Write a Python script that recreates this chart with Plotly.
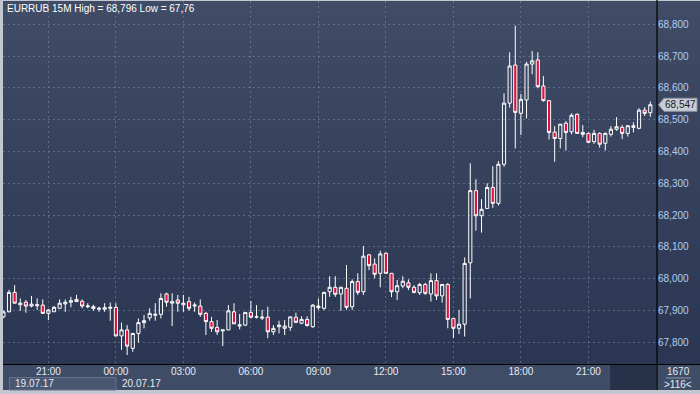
import pandas as pd
import plotly.graph_objects as go

# ---------------- data ----------------
start_time = "2017-07-19 19:00"
bar_minutes = 15
opens = [67.880, 67.896, 67.957, 67.918, 67.926, 67.914, 67.915, 67.917, 67.891, 67.896,
         67.907, 67.921, 67.926, 67.935, 67.929, 67.912, 67.906, 67.904, 67.904, 67.907,
         67.910, 67.820, 67.839, 67.781, 67.828, 67.862, 67.877, 67.885, 67.888, 67.952,
         67.923, 67.933, 67.918, 67.928, 67.914, 67.914, 67.891, 67.865, 67.847, 67.836,
         67.839, 67.896, 67.851, 67.854, 67.894, 67.879, 67.876, 67.879, 67.833, 67.849,
         67.844, 67.847, 67.879, 67.860, 67.872, 67.849, 67.909, 67.907, 67.959, 67.973,
         67.952, 67.970, 67.912, 67.991, 67.959, 68.075, 68.046, 68.017, 68.080, 68.017,
         67.959, 67.977, 67.987, 67.973, 67.956, 67.982, 67.952, 67.994, 67.946, 67.982,
         67.875, 67.844, 67.857, 68.050, 68.277, 68.198, 68.221, 68.287, 68.237, 68.360,
         68.552, 68.672, 68.520, 68.562, 68.675, 68.688, 68.606, 68.560, 68.461, 68.441,
         68.489, 68.462, 68.517, 68.460, 68.457, 68.431, 68.457, 68.426, 68.454, 68.470,
         68.476, 68.457, 68.481, 68.473, 68.530, 68.522]
highs = [67.900, 67.965, 67.980, 67.938, 67.933, 67.946, 67.938, 67.935, 67.904, 67.914,
         67.935, 67.935, 67.943, 67.949, 67.935, 67.923, 67.918, 67.912, 67.923, 67.925,
         67.923, 67.862, 67.854, 67.828, 67.875, 67.886, 67.907, 67.923, 67.954, 67.956,
         67.954, 67.949, 67.949, 67.943, 67.925, 67.935, 67.896, 67.880, 67.870, 67.839,
         67.917, 67.923, 67.889, 67.894, 67.930, 67.917, 67.902, 67.912, 67.854, 67.868,
         67.870, 67.880, 67.893, 67.882, 67.882, 67.920, 67.938, 67.959, 68.008, 68.008,
         67.975, 68.043, 67.998, 68.017, 68.103, 68.078, 68.064, 68.088, 68.082, 68.017,
         67.996, 68.008, 67.998, 67.980, 67.987, 67.987, 68.017, 68.017, 67.982, 67.986,
         67.875, 67.902, 68.067, 68.363, 68.313, 68.250, 68.300, 68.354, 68.370, 68.583,
         68.712, 68.796, 68.581, 68.682, 68.716, 68.712, 68.637, 68.560, 68.480, 68.486,
         68.496, 68.520, 68.520, 68.483, 68.460, 68.468, 68.460, 68.460, 68.480, 68.508,
         68.483, 68.483, 68.492, 68.536, 68.539, 68.557]
lows = [67.876, 67.894, 67.923, 67.899, 67.893, 67.910, 67.902, 67.891, 67.870, 67.896,
        67.907, 67.896, 67.910, 67.928, 67.907, 67.907, 67.899, 67.896, 67.896, 67.868,
        67.820, 67.776, 67.760, 67.770, 67.799, 67.844, 67.868, 67.868, 67.875, 67.912,
        67.851, 67.896, 67.896, 67.899, 67.896, 67.880, 67.823, 67.833, 67.823, 67.788,
        67.839, 67.858, 67.841, 67.851, 67.875, 67.875, 67.870, 67.813, 67.823, 67.828,
        67.823, 67.836, 67.860, 67.857, 67.849, 67.846, 67.902, 67.902, 67.943, 67.943,
        67.899, 67.902, 67.902, 67.949, 67.949, 68.027, 68.001, 67.973, 68.017, 67.942,
        67.933, 67.970, 67.964, 67.954, 67.949, 67.949, 67.928, 67.933, 67.925, 67.844,
        67.813, 67.826, 67.818, 67.938, 68.151, 68.145, 68.221, 68.223, 68.230, 68.352,
        68.538, 68.410, 68.452, 68.504, 68.643, 68.599, 68.557, 68.438, 68.368, 68.410,
        68.403, 68.454, 68.457, 68.445, 68.426, 68.424, 68.412, 68.403, 68.447, 68.465,
        68.439, 68.447, 68.460, 68.470, 68.512, 68.509]
closes = [67.896, 67.957, 67.923, 67.923, 67.914, 67.920, 67.918, 67.891, 67.902, 67.910,
          67.923, 67.926, 67.931, 67.928, 67.914, 67.914, 67.912, 67.907, 67.909, 67.910,
          67.820, 67.839, 67.788, 67.828, 67.862, 67.868, 67.891, 67.888, 67.938, 67.926,
          67.928, 67.923, 67.923, 67.907, 67.917, 67.888, 67.865, 67.844, 67.833, 67.839,
          67.899, 67.858, 67.855, 67.894, 67.879, 67.880, 67.879, 67.833, 67.844, 67.854,
          67.851, 67.880, 67.863, 67.872, 67.853, 67.917, 67.914, 67.957, 67.973, 67.951,
          67.973, 67.910, 67.991, 67.957, 68.071, 68.041, 68.014, 68.078, 68.017, 67.959,
          67.978, 67.992, 67.973, 67.957, 67.982, 67.954, 67.994, 67.946, 67.982, 67.872,
          67.844, 67.857, 68.048, 68.277, 68.198, 68.218, 68.287, 68.237, 68.360, 68.552,
          68.669, 68.523, 68.564, 68.675, 68.685, 68.604, 68.560, 68.460, 68.441, 68.486,
          68.460, 68.514, 68.457, 68.454, 68.429, 68.457, 68.423, 68.457, 68.470, 68.478,
          68.457, 68.481, 68.476, 68.530, 68.520, 68.547]
symbol = "EURRUB"
timeframe = "15M"
total_bars = "1670"
visible_bars = ">116<"
date_labels = ["19.07.17", "20.07.17"]
first_tick = "2017-07-19 21:00"
last_tick = "2017-07-20 21:00"

times = pd.date_range(start_time, periods=len(opens), freq=f"{bar_minutes}min")
tick_times = pd.date_range(first_tick, last_tick, freq="3h")

# ---------------- layout helpers ----------------
W, H = 700, 394
L, R, T, B = 3, 43, 1, 30
PW, PH = W - L - R, H - T - B


def px(x):
    return (x - L) / PW


def py(y):
    return (H - B - y) / PH


def fmt(v):
    s = f"{v:.3f}".rstrip("0").rstrip(".")
    return s.replace(".", ",")


fig = go.Figure()
fig.add_trace(go.Candlestick(
    x=times, open=opens, high=highs, low=lows, close=closes,
    increasing=dict(line=dict(color="#ffffff", width=1), fillcolor="rgba(0,0,0,0)"),
    decreasing=dict(line=dict(color="#ffffff", width=1), fillcolor="#e0103c"),
    whiskerwidth=0, showlegend=False, hoverinfo="skip",
))

shapes = []
# vertical gradient background (plot area + right price panel)
top_c = (64, 76, 102)
bot_c = (43, 55, 82)
n = 45
y0p, y1p = 1, 364
for k in range(n):
    t = k / (n - 1)
    c = tuple(round(top_c[j] + (bot_c[j] - top_c[j]) * t) for j in range(3))
    ya = y0p + (y1p - y0p) * k / n
    yb = min(y1p, y0p + (y1p - y0p) * (k + 1) / n + 3)
    shapes.append(dict(type="rect", xref="paper", yref="paper", x0=px(3), x1=px(700),
                       y0=py(yb), y1=py(ya), fillcolor="rgb(%d,%d,%d)" % c,
                       line=dict(width=0), layer="below"))
# time axis band
shapes.append(dict(type="rect", xref="paper", yref="paper", x0=px(3), x1=px(700),
                   y0=py(390), y1=py(364), fillcolor="#3f4c66", line=dict(width=0), layer="below"))
shapes.append(dict(type="rect", xref="paper", yref="paper", x0=px(610), x1=px(656),
                   y0=py(390), y1=py(365), fillcolor="#27324a", line=dict(width=0), layer="below"))
# date box
shapes.append(dict(type="rect", xref="paper", yref="paper", x0=px(9.5), x1=px(116),
                   y0=py(390), y1=py(377.5), fillcolor="#4a5772",
                   line=dict(width=1, color="#66728c"), layer="below"))
# axis lines
shapes.append(dict(type="line", xref="paper", yref="paper", x0=px(3), x1=px(700),
                   y0=py(364.5), y1=py(364.5), line=dict(color="#000000", width=1.2)))
shapes.append(dict(type="line", xref="paper", yref="paper", x0=px(657), x1=px(657),
                   y0=py(390), y1=py(0), line=dict(color="#000000", width=1.2)))
# underline under bar count
shapes.append(dict(type="line", xref="paper", yref="paper", x0=px(666), x1=px(691),
                   y0=py(378), y1=py(378), line=dict(color="#8e98ac", width=1)))
# last price marker
last = closes[-1]
hh = 6.5 * (1.0 / 318)
xt, xl, xr = px(658.5), px(664), px(697)
path = (f"M {xt},{last} L {xl},{last + hh} L {xr},{last + hh} "
        f"L {xr},{last - hh} L {xl},{last - hh} Z")
shapes.append(dict(type="path", xref="paper", yref="y", path=path,
                   fillcolor="#c9cdd5", line=dict(color="#8f96a3", width=1)))

font_family = "Liberation Sans, Arial, sans-serif"
annotations = [
    dict(text=f"{symbol} {timeframe} High = {fmt(max(highs))} Low = {fmt(min(lows))}",
         xref="paper", yref="paper", x=px(5), y=py(8.5), xanchor="left", yanchor="middle",
         showarrow=False, font=dict(color="#ffffff", size=10, family=font_family)),
    dict(text=f"{last:.3f}".replace(".", ","),
         xref="paper", yref="y", x=px(680.5), y=last, xanchor="center", yanchor="middle",
         showarrow=False, font=dict(color="#1a1a1a", size=10, family=font_family)),
    dict(text=date_labels[0], xref="paper", yref="paper", x=px(12.5), y=py(383.5),
         xanchor="left", yanchor="middle", showarrow=False,
         font=dict(color="#e6eaf2", size=10, family=font_family)),
    dict(text=date_labels[1], xref="paper", yref="paper", x=px(119.5), y=py(383.5),
         xanchor="left", yanchor="middle", showarrow=False,
         font=dict(color="#e6eaf2", size=10, family=font_family)),
    dict(text=total_bars, xref="paper", yref="paper", x=px(678.5), y=py(371.5),
         xanchor="center", yanchor="middle", showarrow=False,
         font=dict(color="#e6eaf2", size=10, family=font_family)),
    dict(text=visible_bars, xref="paper", yref="paper", x=px(678.5), y=py(384.5),
         xanchor="center", yanchor="middle", showarrow=False,
         font=dict(color="#e6eaf2", size=10, family=font_family)),
]

grid_color = "rgba(125,140,170,0.55)"
fig.update_layout(
    width=W, height=H,
    margin=dict(l=L, r=R, t=T, b=B, pad=0, autoexpand=False),
    paper_bgcolor="#c3c7cf",
    plot_bgcolor="rgba(0,0,0,0)",
    separators=",.",
    boxgap=0.2,
    shapes=shapes,
    annotations=annotations,
    showlegend=False,
    xaxis=dict(
        type="date", automargin=False,
        range=["2017-07-19 18:58:56", "2017-07-21 00:02:54"],
        tickmode="array", tickvals=list(tick_times),
        ticktext=[t.strftime("%H:%M") for t in tick_times],
        showgrid=True, gridcolor=grid_color, griddash="2px,3px", gridwidth=1,
        zeroline=False, showline=False, ticks="",
        tickfont=dict(color="#e6eaf2", size=10, family=font_family),
        rangeslider=dict(visible=False), fixedrange=True,
    ),
    yaxis=dict(
        side="right", automargin=False,
        range=[67.7318, 68.8733],
        tick0=67.8, dtick=0.1, tickformat=".3f",
        showgrid=True, gridcolor=grid_color, griddash="2px,3px", gridwidth=1,
        zeroline=False, showline=False, ticks="",
        tickfont=dict(color="#b2cdf5", size=10, family=font_family),
        fixedrange=True,
    ),
)

fig.write_html(
    "out.html",
    config={"displayModeBar": False},
    post_script="document.body.style.margin='0';document.body.style.padding='0';",
)
